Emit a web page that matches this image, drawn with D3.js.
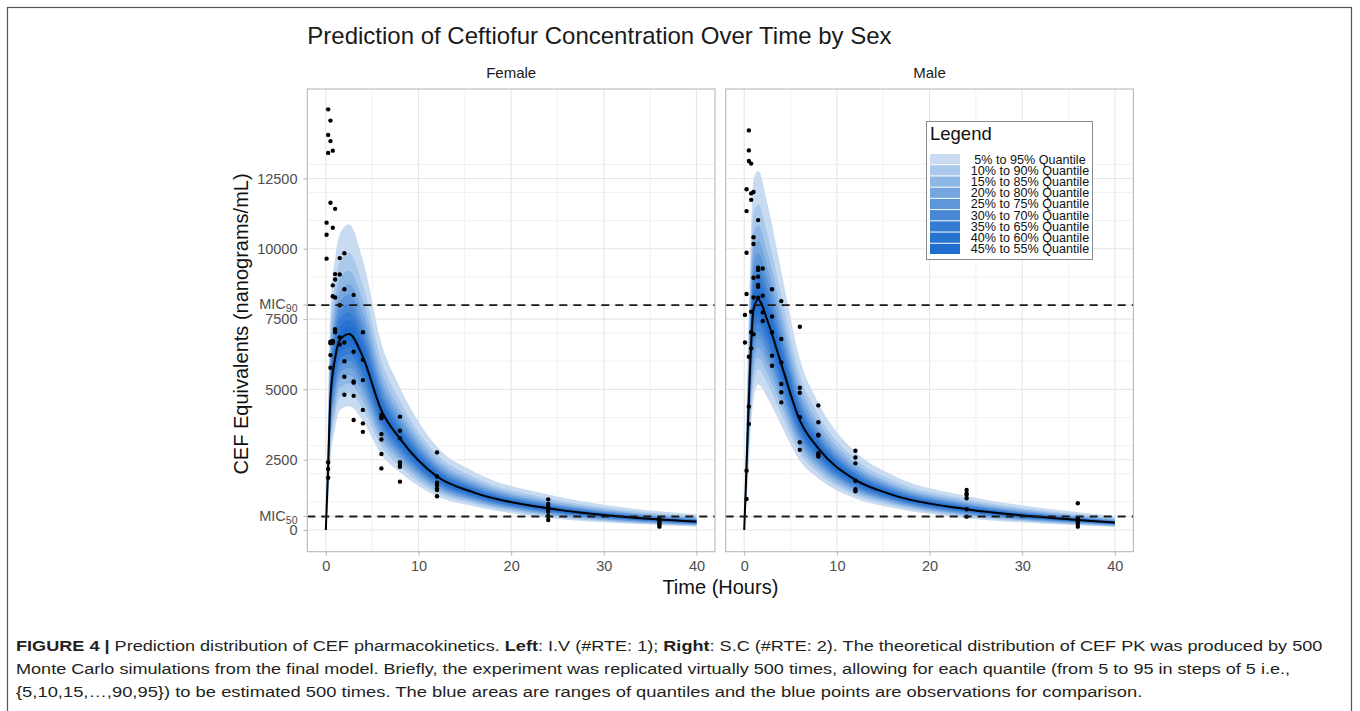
<!DOCTYPE html>
<html><head><meta charset="utf-8">
<script src="https://cdn.jsdelivr.net/npm/d3@7"></script>
<style>
body{margin:0;background:#fff}
svg{display:block}
text{font-family:"Liberation Sans",Arial,Helvetica,sans-serif}
</style>
</head><body>
<svg id="chart" width="1360" height="711"></svg>
<script>
// ---------- DATA ----------
const panelNames = ["Female", "Male"];
const times = [0, 0.25, 0.5, 1, 1.5, 2.5, 4, 6, 8, 12, 16, 24, 32, 40];

// Female predicted quantiles (ng/mL)
const femaleQ05 = [0, 930, 2430, 3610, 4260, 4400, 3880, 2680, 2050, 1200, 840, 430, 240, 120];
const femaleQ10 = [0, 1140, 2820, 4050, 4720, 4870, 4300, 2970, 2270, 1330, 930, 490, 270, 150];
const femaleQ15 = [0, 1300, 3110, 4380, 5050, 5210, 4600, 3180, 2430, 1420, 995, 540, 300, 170];
const femaleQ20 = [0, 1450, 3360, 4660, 5330, 5510, 4860, 3360, 2570, 1500, 1050, 570, 330, 190];
const femaleQ25 = [0, 1590, 3590, 4920, 5590, 5770, 5090, 3520, 2690, 1570, 1100, 610, 350, 210];
const femaleQ30 = [0, 1720, 3810, 5160, 5830, 6020, 5310, 3670, 2800, 1640, 1150, 640, 380, 220];
const femaleQ35 = [0, 1860, 4030, 5390, 6060, 6260, 5520, 3820, 2920, 1710, 1190, 670, 400, 240];
const femaleQ40 = [0, 2000, 4250, 5620, 6290, 6500, 5730, 3960, 3030, 1770, 1240, 700, 420, 260];
const femaleQ45 = [0, 2150, 4470, 5860, 6510, 6730, 5930, 4100, 3140, 1830, 1280, 740, 450, 280];
const femaleMedian = [0, 2300, 4700, 6100, 6750, 6970, 6150, 4250, 3250, 1900, 1330, 770, 470, 300];
const femaleQ55 = [0, 2420, 4890, 6320, 6980, 7210, 6360, 4390, 3360, 1960, 1380, 800, 490, 315];
const femaleQ60 = [0, 2550, 5100, 6550, 7230, 7460, 6590, 4550, 3480, 2030, 1420, 830, 510, 330];
const femaleQ65 = [0, 2680, 5320, 6800, 7490, 7740, 6830, 4720, 3610, 2110, 1480, 860, 530, 350];
const femaleQ70 = [0, 2840, 5560, 7060, 7780, 8030, 7080, 4900, 3740, 2190, 1530, 900, 560, 370];
const femaleQ75 = [0, 3010, 5830, 7370, 8100, 8360, 7380, 5100, 3900, 2280, 1600, 940, 590, 390];
const femaleQ80 = [0, 3220, 6150, 7720, 8470, 8750, 7720, 5330, 4080, 2380, 1670, 990, 620, 410];
const femaleQ85 = [0, 3480, 6550, 8160, 8930, 9220, 8140, 5620, 4300, 2510, 1760, 1050, 660, 445];
const femaleQ90 = [0, 3840, 7080, 8740, 9540, 9850, 8690, 6010, 4590, 2680, 1880, 1130, 720, 490];
const femaleQ95 = [0, 4440, 7960, 9670, 10520, 10870, 9590, 6630, 5070, 2960, 2070, 1260, 810, 560];

// Male predicted quantiles (ng/mL)
const maleQ05 = [0, 930, 2410, 4640, 5170, 4700, 3720, 2460, 1830, 1120, 790, 420, 230, 110];
const maleQ10 = [0, 1140, 2790, 5210, 5730, 5210, 4120, 2730, 2030, 1240, 870, 470, 270, 130];
const maleQ15 = [0, 1300, 3070, 5640, 6130, 5570, 4410, 2920, 2170, 1330, 940, 520, 300, 150];
const maleQ20 = [0, 1450, 3320, 6000, 6480, 5890, 4660, 3080, 2290, 1410, 990, 550, 320, 170];
const maleQ25 = [0, 1590, 3550, 6330, 6790, 6170, 4890, 3230, 2400, 1470, 1040, 580, 350, 180];
const maleQ30 = [0, 1720, 3770, 6640, 7080, 6430, 5090, 3370, 2500, 1540, 1080, 620, 370, 200];
const maleQ35 = [0, 1860, 3990, 6940, 7360, 6690, 5300, 3500, 2600, 1600, 1120, 650, 390, 210];
const maleQ40 = [0, 2000, 4200, 7240, 7640, 6940, 5500, 3630, 2700, 1660, 1170, 680, 410, 230];
const maleQ45 = [0, 2150, 4420, 7540, 7910, 7190, 5690, 3760, 2800, 1720, 1210, 710, 440, 250];
const maleMedian = [0, 2300, 4650, 7850, 8200, 7450, 5900, 3900, 2900, 1780, 1250, 740, 460, 265];
const maleQ55 = [0, 2420, 4840, 8130, 8480, 7700, 6100, 4030, 3000, 1840, 1290, 770, 480, 280];
const maleQ60 = [0, 2550, 5040, 8420, 8780, 7980, 6320, 4180, 3110, 1910, 1340, 800, 500, 290];
const maleQ65 = [0, 2680, 5260, 8740, 9100, 8270, 6550, 4330, 3220, 1980, 1390, 830, 520, 310];
const maleQ70 = [0, 2840, 5500, 9090, 9450, 8580, 6800, 4490, 3340, 2050, 1440, 870, 550, 320];
const maleQ75 = [0, 3010, 5770, 9480, 9840, 8940, 7080, 4680, 3480, 2140, 1500, 910, 570, 340];
const maleQ80 = [0, 3220, 6090, 9940, 10290, 9350, 7400, 4890, 3640, 2230, 1570, 950, 610, 365];
const maleQ85 = [0, 3480, 6480, 10500, 10850, 9860, 7810, 5160, 3840, 2360, 1650, 1010, 650, 390];
const maleQ90 = [0, 3840, 7010, 11240, 11590, 10530, 8340, 5510, 4100, 2520, 1770, 1090, 700, 430];
const maleQ95 = [0, 4440, 7870, 12440, 12780, 11610, 9200, 6080, 4520, 2780, 1950, 1210, 790, 495];

// Observations
const femaleObsTime = [
  0.08,0.08,0.08,
  0.25,0.25,0.25,0.25,0.25,0.25,
  0.5,0.5,0.5,0.5,0.5,0.5,0.5,
  0.75,0.75,0.75,0.75,0.75,0.75,
  1,1,1,1,1,1,
  1.5,1.5,1.5,1.5,1.5,
  2,2,2,2,2,2,
  3,3,3,3,3,3,
  4,4,4,4,4,4,
  6,6,6,6,6,6,6,
  8,8,8,8,8,8,8,
  12,12,12,12,12,12,12,
  24,24,24,24,24,24,24,
  36,36,36,36,36,36];
const femaleObsConc = [
  10930,10500,9650,
  14960,14050,13410,2410,2170,1860,
  14560,13830,11640,6700,6640,6220,5770,
  13490,10750,8700,8310,6720,6660,
  11420,9100,8910,8270,7140,7030,
  9670,9090,7990,6850,6600,
  9840,8560,6670,6000,5450,4810,
  8360,6340,5280,5240,4770,3910,
  7030,6050,5330,4270,3790,3490,
  4090,4030,3970,3410,3220,2700,2190,
  4030,3530,3260,2410,2310,2250,1720,
  2760,1900,1680,1600,1480,1420,1200,
  1090,925,830,735,650,500,356,
  415,356,296,237,178,119];

const maleObsTime = [
  0.08,0.08,
  0.25,0.25,0.25,0.25,0.25,0.25,
  0.5,0.5,0.5,0.5,0.5,0.5,
  0.75,0.75,0.75,0.75,0.75,0.75,
  1,1,1,1,1,1,
  1.5,1.5,1.5,1.5,1.5,1.5,1.5,
  2,2,2,2,
  3,3,3,3,3,
  4,4,4,4,4,4,
  6,6,6,6,6,6,
  8,8,8,8,8,8,8,
  12,12,12,12,12,12,
  24,24,24,24,24,24,
  36,36,36,36,36,36];
const maleObsConc = [
  7650,6670,
  12120,11340,9860,8390,2110,1100,
  14210,13500,13120,6160,4390,3770,
  13030,11970,11740,7760,7030,6460,
  12020,10410,10170,8970,8270,6960,
  11020,9330,9250,9010,8710,8650,8260,
  9300,8330,7740,7430,
  8560,7590,7030,6200,5840,
  8140,6790,5960,5190,4900,4540,
  7230,5060,4880,4010,3120,2850,
  4430,3830,3390,3360,2730,2670,2610,
  2820,2580,2370,1750,1450,1380,
  1420,1300,1250,1130,735,474,
  950,415,330,260,213,119];

const bandLabels = ["5% to 95% Quantile","10% to 90% Quantile","15% to 85% Quantile","20% to 80% Quantile",
  "25% to 75% Quantile","30% to 70% Quantile","35% to 65% Quantile","40% to 60% Quantile","45% to 55% Quantile"];
const bandColors = ["#c8dbf1","#abc9eb","#8fb7e5","#76a6df","#5e96da","#4888d6","#357bd2","#2773d0","#1c6dce"];

const xTicks = [0, 10, 20, 30, 40];
const xMinor = [5, 15, 25, 35];
const yTicks = [0, 2500, 5000, 7500, 10000, 12500];
const yMinor = [1000, 2000, 3000, 4000, 6000, 7000, 9000, 11000, 12000, 13000];
const micValues = [480, 8000];
const micNames = ["50", "90"];

const panelData = [
  {name: panelNames[0], median: femaleMedian, obsT: femaleObsTime, obsC: femaleObsConc,
   lower: [femaleQ05,femaleQ10,femaleQ15,femaleQ20,femaleQ25,femaleQ30,femaleQ35,femaleQ40,femaleQ45],
   upper: [femaleQ95,femaleQ90,femaleQ85,femaleQ80,femaleQ75,femaleQ70,femaleQ65,femaleQ60,femaleQ55]},
  {name: panelNames[1], median: maleMedian, obsT: maleObsTime, obsC: maleObsConc,
   lower: [maleQ05,maleQ10,maleQ15,maleQ20,maleQ25,maleQ30,maleQ35,maleQ40,maleQ45],
   upper: [maleQ95,maleQ90,maleQ85,maleQ80,maleQ75,maleQ70,maleQ65,maleQ60,maleQ55]}
];

// ---------- LAYOUT ----------
const svg = d3.select("#chart");
svg.append("rect").attr("width",1360).attr("height",711).attr("fill","#fff");
svg.append("rect").attr("x",7.5).attr("y",7.5).attr("width",1344).attr("height",800)
  .attr("fill","none").attr("stroke","#555").attr("stroke-width",1.2);

const panelTop = 89, panelBottom = 551.7;
const panelLefts = [307.3, 725.7], panelWidth = 407.7;
const y = d3.scaleLinear().domain([-772, 15683]).range([panelBottom, panelTop]);
const gridCol = "#e6e6e6", minorCol = "#eeeeee", borderCol = "#b8b8b8", tickTextCol = "#4d4d4d";

// Title
svg.append("text").attr("x",307.3).attr("y",44).attr("font-size",24).attr("fill","#1a1a1a")
  .text("Prediction of Ceftiofur Concentration Over Time by Sex");

panelData.forEach((p, pi) => {
  const x0 = panelLefts[pi];
  const x = d3.scaleLinear().domain([-2, 42]).range([x0, x0 + panelWidth]);
  const g = svg.append("g");
  const clipId = "clip" + pi;
  svg.append("clipPath").attr("id", clipId).append("rect")
    .attr("x", x0).attr("y", panelTop).attr("width", panelWidth).attr("height", panelBottom - panelTop);
  const inner = g.append("g").attr("clip-path", `url(#${clipId})`);

  // grid
  inner.selectAll(".vmin").data(xMinor).join("line").attr("x1",d=>x(d)).attr("x2",d=>x(d))
    .attr("y1",panelTop).attr("y2",panelBottom).attr("stroke",minorCol).attr("stroke-width",0.8);
  inner.selectAll(".hmin").data(yMinor).join("line").attr("y1",d=>y(d)).attr("y2",d=>y(d))
    .attr("x1",x0).attr("x2",x0+panelWidth).attr("stroke",minorCol).attr("stroke-width",0.8);
  inner.selectAll(".vmaj").data(xTicks).join("line").attr("x1",d=>x(d)).attr("x2",d=>x(d))
    .attr("y1",panelTop).attr("y2",panelBottom).attr("stroke",gridCol).attr("stroke-width",1.1);
  inner.selectAll(".hmaj").data(yTicks.concat(micValues)).join("line").attr("y1",d=>y(d)).attr("y2",d=>y(d))
    .attr("x1",x0).attr("x2",x0+panelWidth).attr("stroke",gridCol).attr("stroke-width",1.1);

  // bands
  const area = d3.area().x((d,i)=>x(times[i])).y0(d=>y(d[0])).y1(d=>y(d[1])).curve(d3.curveMonotoneX);
  p.lower.forEach((lo, bi) => {
    const hi = p.upper[bi];
    const pts = lo.map((v,i)=>[v, hi[i]]);
    inner.append("path").attr("d", area(pts)).attr("fill", bandColors[bi]).attr("stroke","none");
  });

  // observations
  inner.selectAll(".obs").data(p.obsT.map((t,i)=>[t,p.obsC[i]])).join("circle")
    .attr("cx",d=>x(d[0])).attr("cy",d=>y(d[1])).attr("r",2.2).attr("fill","#000");

  // median line
  const line = d3.line().x((d,i)=>x(times[i])).y(d=>y(d)).curve(d3.curveMonotoneX);
  inner.append("path").attr("d", line(p.median)).attr("fill","none").attr("stroke","#000").attr("stroke-width",2);

  // MIC dashed lines
  inner.selectAll(".mic").data(micValues).join("line").attr("x1",x0).attr("x2",x0+panelWidth)
    .attr("y1",d=>y(d)).attr("y2",d=>y(d)).attr("stroke","#1a1a1a").attr("stroke-width",1.8)
    .attr("stroke-dasharray","8,6");

  // border
  g.append("rect").attr("x",x0).attr("y",panelTop).attr("width",panelWidth).attr("height",panelBottom-panelTop)
    .attr("fill","none").attr("stroke",borderCol).attr("stroke-width",1.1);

  // x axis
  const xa = g.append("g").attr("transform",`translate(0,${panelBottom})`)
    .call(d3.axisBottom(x).tickValues(xTicks).tickSize(3.8).tickPadding(5).tickFormat(d3.format("d")));
  xa.select(".domain").remove();
  xa.selectAll("line").attr("stroke",borderCol).attr("stroke-width",1.1);
  xa.selectAll("text").attr("font-size",14.5).attr("fill",tickTextCol).attr("font-family",null);

  // strip label
  svg.append("text").attr("x",x0+panelWidth/2).attr("y",78).attr("text-anchor","middle")
    .attr("font-size",15).attr("fill","#1a1a1a").text(p.name);
});

// y axis (left panel)
const ya = svg.append("g").attr("transform",`translate(${panelLefts[0]},0)`)
  .call(d3.axisLeft(y).tickValues(yTicks).tickSize(3.8).tickPadding(6).tickFormat(d3.format("d")));
ya.select(".domain").remove();
ya.selectAll("line").attr("stroke",borderCol).attr("stroke-width",1.1);
ya.selectAll("text").attr("font-size",14.5).attr("fill",tickTextCol).attr("font-family",null);
micValues.forEach((v, i) => {
  svg.append("line").attr("x1",panelLefts[0]-3.8).attr("x2",panelLefts[0]).attr("y1",y(v)).attr("y2",y(v))
    .attr("stroke",borderCol).attr("stroke-width",1.1);
  const t = svg.append("text").attr("x",panelLefts[0]-9.8).attr("y",y(v)+4.2).attr("text-anchor","end")
    .attr("font-size",14.5).attr("fill",tickTextCol);
  t.append("tspan").text("MIC");
  t.append("tspan").attr("font-size",10.5).attr("dy",3).text(micNames[i]);
});

// axis titles
svg.append("text").attr("x",(panelLefts[0] + panelLefts[1] + panelWidth)/2).attr("y",594)
  .attr("text-anchor","middle").attr("font-size",20).attr("fill","#111").text("Time (Hours)");
svg.append("text").attr("transform","translate(248,324) rotate(-90)").attr("text-anchor","middle")
  .attr("font-size",20).attr("fill","#111").text("CEF Equivalents (nanograms/mL)");

// legend
const lg = svg.append("g");
lg.append("rect").attr("x",926.5).attr("y",121.5).attr("width",166).attr("height",138)
  .attr("fill","#fff").attr("stroke","#8a8a8a").attr("stroke-width",1);
lg.append("text").attr("x",930).attr("y",139.5).attr("font-size",18.5).attr("fill","#111").text("Legend");
const rowH = 11.22;
bandLabels.forEach((lab, i) => {
  lg.append("rect").attr("x",930).attr("y",154 + i*rowH).attr("width",30).attr("height",rowH-1)
    .attr("fill",bandColors[i]);
  lg.append("text").attr("x",1030).attr("y",154 + i*rowH + 9.6).attr("text-anchor","middle")
    .attr("font-size",12.6).attr("fill","#111").text(lab);
});

// caption
function fitText(sel, x0, target){
  const w = sel.node().getComputedTextLength();
  sel.attr("transform",`translate(${x0},0) scale(${target/w},1) translate(${-x0},0)`);
}
const capSize = 15.5, capCol = "#231f20";
const c1 = svg.append("text").attr("x",16).attr("y",651).attr("font-size",capSize).attr("fill",capCol);
c1.append("tspan").attr("font-weight","bold").text("FIGURE 4 |");
c1.append("tspan").text(" Prediction distribution of CEF pharmacokinetics. ");
c1.append("tspan").attr("font-weight","bold").text("Left");
c1.append("tspan").text(": I.V (#RTE: 1); ");
c1.append("tspan").attr("font-weight","bold").text("Right");
c1.append("tspan").text(": S.C (#RTE: 2). The theoretical distribution of CEF PK was produced by 500");
fitText(c1, 16, 1307);
const c2 = svg.append("text").attr("x",16).attr("y",674).attr("font-size",capSize).attr("fill",capCol)
  .text("Monte Carlo simulations from the final model. Briefly, the experiment was replicated virtually 500 times, allowing for each quantile (from 5 to 95 in steps of 5 i.e.,");
fitText(c2, 16, 1275);
const c3 = svg.append("text").attr("x",16).attr("y",697).attr("font-size",capSize).attr("fill",capCol)
  .text("{5,10,15,…,90,95}) to be estimated 500 times. The blue areas are ranges of quantiles and the blue points are observations for comparison.");
fitText(c3, 16, 1127);
</script>
</body></html>
